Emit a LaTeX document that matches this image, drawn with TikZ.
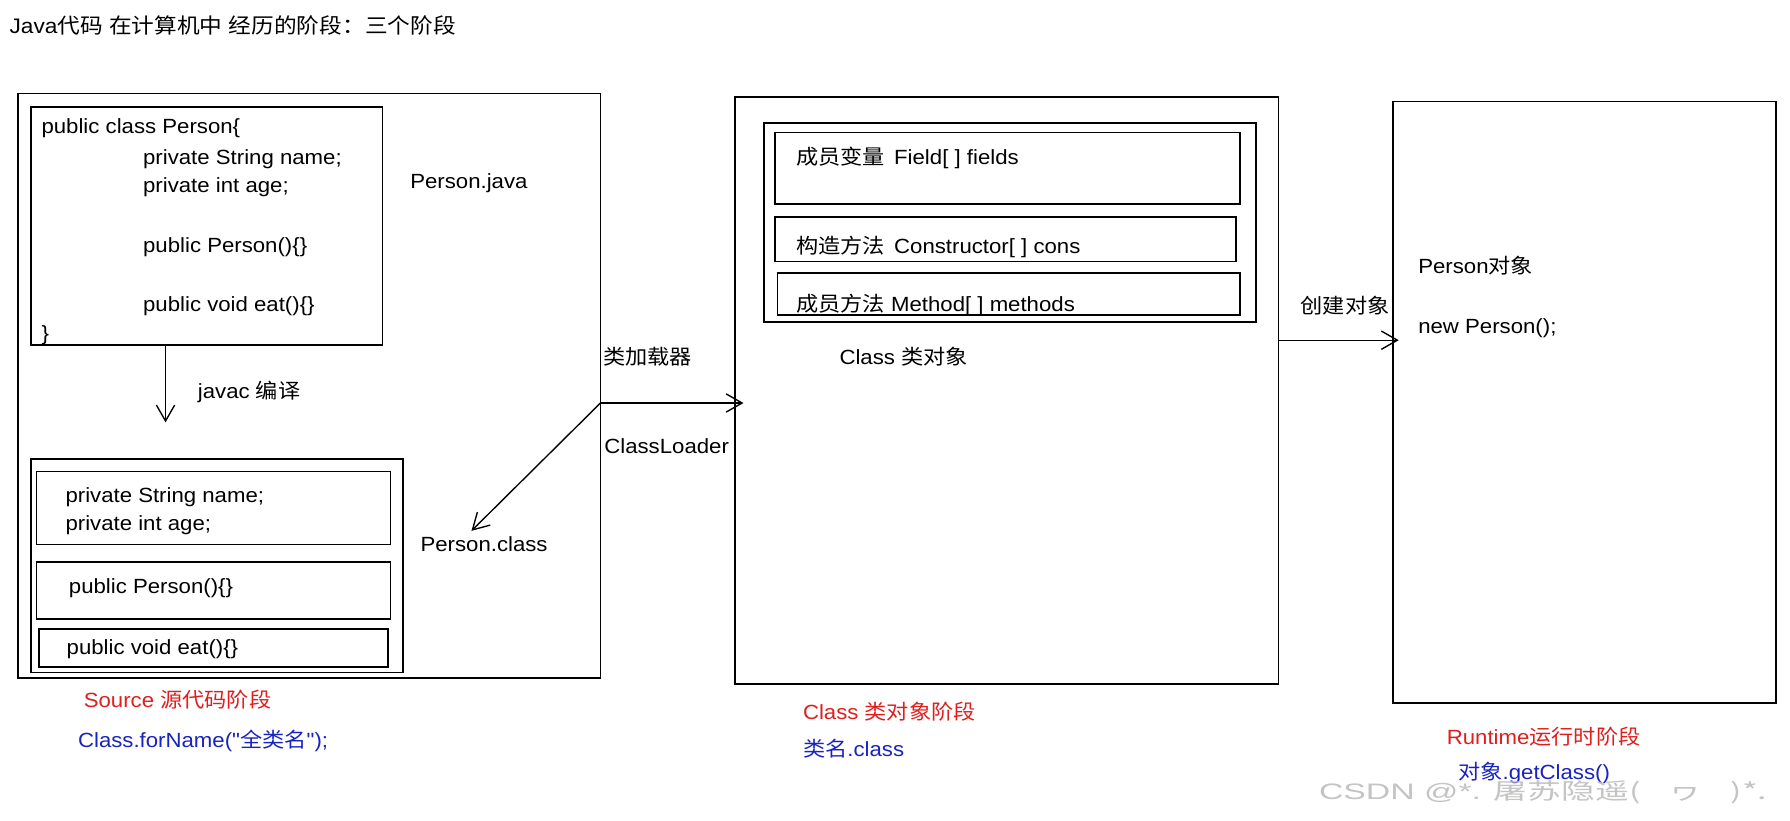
\documentclass[tikz,border=0pt]{standalone}
\usepackage{fontspec}
\setmainfont{Liberation Sans}[FakeStretch=1.08]
\newfontfamily\cjk{Noto Sans CJK SC}[FakeStretch=1.08]
\newfontfamily\qf{Liberation Sans}[FakeStretch=1.08,Ligatures=TeXOff]
\newcommand\zh[1]{{\cjk #1}}
\newcommand\dq{{\qf "}}
\usetikzlibrary{arrows.meta}
\definecolor{lblred}{RGB}{225,30,30}
\definecolor{lblblue}{RGB}{25,35,190}
\definecolor{wmgray}{RGB}{196,196,196}
\begin{document}
\begin{tikzpicture}[x=0.5pt,y=-0.5pt,
  rect/.style={draw, line width=0.75pt, inner sep=0pt, rectangle},
  txt/.style={anchor=base west, inner sep=0pt, font=\fontsize{9.0}{11}\selectfont},
  arr/.style={line width=0.6pt, -{Straight Barb[length=7pt,width=8pt,line width=0.6pt]}},
]
\useasboundingbox[fill=white] (0,0) rectangle (1568,719);

% title
\node[txt, font=\fontsize{9.2}{11}\selectfont] (title) at (8,29) {Java\zh{代码} \zh{在计算机中} \zh{经历的阶段：三个阶段}};

% ---------- Source stage ----------
\node[rect, minimum width=255pt, minimum height=256pt] (B1) at (271,338) {};
\node[rect, minimum width=154pt, minimum height=104pt] (code) at (181,198) {};
\node[txt] (c1) at (36,117) {public class Person\{};
\node[txt] (c2) at (125,144) {private String name;};
\node[txt] (c3) at (125,169) {private int age;};
\node[txt] (c4) at (125,221) {public Person()\{\}};
\node[txt] (c5) at (125,273) {public void eat()\{\}};
\node[txt] (c6) at (36,298) {\}};
\node[txt] (pjava) at (359,165) {Person.java};

\coordinate (jv) at (145,370);
\draw[arr] (code.south -| jv) -- (jv);
\node[txt] (javac) at (173,349) {javac \zh{编译}};

\node[rect, minimum width=163pt, minimum height=93.5pt] (low) at (190,495.5) {};
\node[rect, minimum width=155pt, minimum height=32pt] (s1) at (187,445) {};
\node[rect, minimum width=155pt, minimum height=25pt] (s2) at (187,517) {};
\node[rect, minimum width=153pt, minimum height=16.5pt] (s3) at (187,567.5) {};
\node[txt] (l1) at (57,440) {private String name;};
\node[txt] (l2) at (57,465) {private int age;};
\node[txt] (l3) at (60,520) {public Person()\{\}};
\node[txt] (l4) at (58,573) {public void eat()\{\}};
\node[txt] (pclass) at (368,483) {Person.class};

% ---------- Class loader ----------
\coordinate (cl) at (526,353);
\coordinate (tipd) at (413,465);
\draw[arr] (cl) -- (tipd);
\node[rect, minimum width=238pt, minimum height=257pt] (B2) at (882,342) {};
\draw[arr] (cl) -- ([xshift=4pt]B2.west |- cl);
\node[txt] (jzq) at (528,319) {\zh{类加载器}};
\node[txt] (loader) at (529,397) {ClassLoader};

% ---------- Class stage ----------
\node[rect, minimum width=215.5pt, minimum height=87pt] (in2) at (884.5,195) {};
\node[rect, minimum width=203.5pt, minimum height=31.5pt] (f1) at (882.5,147.5) {};
\node[rect, minimum width=202pt, minimum height=19.5pt] (f2) at (881,209.5) {};
\node[rect, minimum width=202.5pt, minimum height=18.5pt] (f3) at (883.5,257.5) {};
\node[txt] (t1) at (697,144) {\zh{成员变量}\hspace{0.45em}Field[ ] fields};
\node[txt] (t2) at (697,222) {\zh{构造方法}\hspace{0.45em}Constructor[ ] cons};
\node[txt] (t3) at (697,273) {\zh{成员方法} Method[ ] methods};
\node[txt] (clsobj) at (735,319) {Class \zh{类对象}};

% ---------- Runtime stage ----------
\node[rect, minimum width=168pt, minimum height=263.5pt] (B3) at (1388,352.5) {};
\coordinate (ce) at (1120,298);
\draw[arr] (B2.east |- ce) -- ([xshift=3pt]B3.west |- ce);
\node[txt] (cjdx) at (1139,275) {\zh{创建对象}};
\node[txt] (pobj) at (1242,240) {Person\zh{对象}};
\node[txt] (newp) at (1242,292) {new Person();};

% ---------- stage labels ----------
\node[txt, text=lblred] (src) at (73,620) {Source \zh{源代码阶段}};
\node[txt, text=lblblue] (forname) at (68,655) {Class.forName(\dq\zh{全类名}\dq);};
\node[txt, text=lblred] (clsst) at (703,630) {Class \zh{类对象阶段}};
\node[txt, text=lblblue] (dotcls) at (703,663) {\zh{类名}.class};
\node[txt, text=lblred] (rt) at (1267,652) {Runtime\zh{运行时阶段}};
\node[txt, text=lblblue] (getcls) at (1277,683) {\zh{对象}.getClass()};

% watermark
\node[txt, text=wmgray, font=\fontsize{9.8}{12}\selectfont] (wm) at (1155,700)
  {\scalebox{1.4}[1]{CSDN @*. \zh{屠苏隐遥(}\hspace{0.9em}\zh{ヮ}\hspace{0.9em}\zh{)*.}}};
\end{tikzpicture}
\end{document}
